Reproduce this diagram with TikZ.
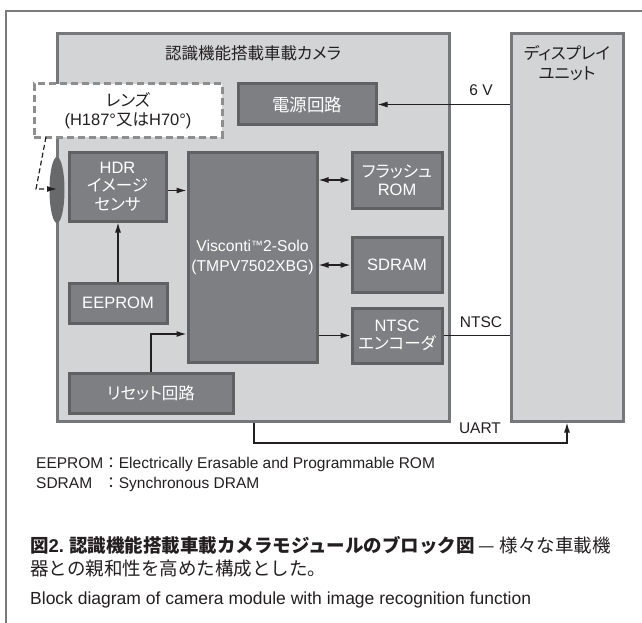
\documentclass[tikz,border=0pt]{standalone}
\usepackage{fontspec}
\setmainfont{Liberation Sans}
\newfontfamily\jp[RawFeature=+palt]{Noto Sans CJK JP}
\newfontfamily\jpc{Noto Sans CJK JP}
\usetikzlibrary{arrows.meta,shapes.geometric}
\definecolor{camfill}{HTML}{D3D4D6}
\definecolor{camedge}{HTML}{76777A}
\definecolor{blkfill}{HTML}{7E7F82}
\definecolor{blkedge}{HTML}{606163}
\definecolor{lensedge}{HTML}{8E8E8E}
\definecolor{lenselem}{HTML}{68696B}
\definecolor{framec}{HTML}{7A7A7A}
\definecolor{txt}{HTML}{231F20}
\newcommand\boxfont{\fontsize{16.5pt}{18.5pt}\selectfont}
\newcommand\lblfont{\fontsize{15.5pt}{18.5pt}\selectfont}
\tikzset{
  unitbox/.style={draw=camedge, fill=camfill, line width=3pt, inner sep=0pt},
  blk/.style={draw=blkedge, fill=blkfill, line width=3pt, text=white, align=center, inner sep=0pt, font=\boxfont},
  lensbox/.style={draw=lensedge, fill=white, line width=3pt, dash pattern=on 7pt off 4pt, align=center, inner sep=0pt, text=txt, font=\boxfont},
  conn/.style={draw=txt, line width=1.2pt},
  arr/.style={conn, -{Latex[length=10pt,width=6pt]}},
  darr/.style={conn, {Latex[length=10pt,width=6pt]}-{Latex[length=10pt,width=6pt]}},
  lensarr/.style={conn, dash pattern=on 5pt off 3pt, -{Latex[length=10pt,width=6pt]}},
  lbl/.style={font=\lblfont, inner sep=0pt, text=txt, align=center},
  note/.style={inner sep=0pt, anchor=west, text=txt},
}
\begin{document}
\begin{tikzpicture}[x=1pt,y=-1pt]
\useasboundingbox (0,0) rectangle (642,623);
% outer frame
\draw[framec, line width=1.3pt] (6,623) -- (6,11) -- (642,11);
% units
\node[unitbox, minimum width=392pt, minimum height=387pt] (cam) at (253,227.5) {};
\node[unitbox, minimum width=112pt, minimum height=387pt] (disp) at (567,227.5) {};
\node[lbl, font=\fontsize{16.5pt}{20pt}\selectfont] (camtitle) at (253,53) {\jp 認識機能搭載車載カメラ};
\node[lbl, font=\fontsize{16.5pt}{20pt}\selectfont] (disptitle) at (567,63) {\jp ディスプレイ\\\jp ユニット};
% lens
\node[lensbox, minimum width=188pt, minimum height=53pt] (lens) at (128,110.5) {{\jp レンズ}\\(H187°{\jp 又は}H70°)};
% blocks
\node[blk, minimum width=138pt, minimum height=41pt, font=\fontsize{17.5pt}{20pt}\selectfont] (pwr) at (307,104.5) {\jp 電源回路};
\node[blk, minimum width=97pt, minimum height=69pt] (hdr) at (117.5,186.5) {HDR\\{\jp イメージ}\\{\jp センサ}};
\node[blk, minimum width=129pt, minimum height=210pt, font=\fontsize{15.7pt}{20pt}\selectfont] (vis) at (252.5,257) {Visconti\raisebox{1.8pt}{\fontsize{12pt}{12pt}\selectfont ™}2-Solo\\(TMPV7502XBG)};
\node[blk, minimum width=90pt, minimum height=56pt] (flash) at (397,180) {{\jp フラッシュ}\\ROM};
\node[blk, minimum width=90pt, minimum height=55pt] (sdram) at (397,265) {SDRAM};
\node[blk, minimum width=90pt, minimum height=55pt] (ntsc) at (397,335.5) {NTSC\\{\jp エンコーダ}};
\node[blk, minimum width=98pt, minimum height=40pt] (eep) at (118,303) {EEPROM};
\node[blk, minimum width=164pt, minimum height=40pt] (reset) at (151,393) {\jp リセット回路};
% lens element
\node[ellipse, fill=lenselem, minimum width=15pt, minimum height=66pt, inner sep=0pt] (elem) at (57,190) {};
\coordinate (lensfoot) at (46,137);
\coordinate (lensbend) at (36,189);
\draw[lensarr] (lensfoot) -- (lensbend) -- (lensbend -| elem.center);
% connectors
\draw[arr] (pwr.east -| disp.west) -- (pwr.east);
\node[lbl] (v6) at (481,90) {6 V};
\draw[arr] ([yshift=-4pt]hdr.east) -- ([yshift=-4pt]hdr.east -| vis.west);
\draw[arr] (eep.north) -- (eep.north |- hdr.south);
\draw[arr] (reset.north) |- ([yshift=-77pt]vis.west);
\draw[darr] (flash.west -| vis.east) -- (flash.west);
\draw[darr] (sdram.west -| vis.east) -- (sdram.west);
\draw[arr] (ntsc.west -| vis.east) -- (ntsc.west);
\draw[conn] (ntsc.east) -- (ntsc.east -| disp.west);
\node[lbl] (ntsclbl) at (481,322) {NTSC};
\coordinate (uartA) at (254,443);
\coordinate (uartB) at (567,443);
\draw[arr] (cam.south -| uartA) -- (uartA) -- (uartB) -- (disp.south);
\node[lbl] (uartlbl) at (480,428) {UART};
% footnotes
\node[note, font=\fontsize{15.5pt}{20pt}\selectfont] (fn) at (36,474) {\begin{tabular}{@{}l@{}l@{}}EEPROM&{\jpc ：}Electrically Erasable and Programmable ROM\\SDRAM&{\jpc ：}Synchronous DRAM\end{tabular}};
% caption
\node[note, font=\fontsize{18.5pt}{23pt}\selectfont] (cap1) at (30,545) {{\jpc\bfseries 図}{\bfseries 2.}\hspace{5pt}{\jpc\bfseries 認識機能搭載車載カメラモジュールのブロック図}{\jpc\ — 様々な車載機}};
\node[note, font=\fontsize{18.5pt}{23pt}\selectfont] (cap2) at (30,569) {\jpc 器との親和性を高めた構成とした。};
\node[note, font=\fontsize{17.5pt}{20pt}\selectfont] (cap3) at (30,600) {Block diagram of camera module with image recognition function};
\end{tikzpicture}
\end{document}
